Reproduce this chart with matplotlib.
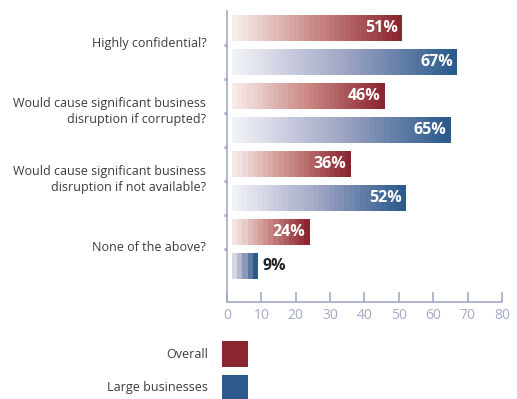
import numpy as np
import matplotlib.pyplot as plt
from matplotlib.colors import LinearSegmentedColormap
from matplotlib.patches import Rectangle

questions = [
    "Highly confidential?",
    "Would cause significant business\ndisruption if corrupted?",
    "Would cause significant business\ndisruption if not available?",
    "None of the above?",
]
overall = [51, 46, 36, 24]
large_businesses = [67, 65, 52, 9]
series_names = ["Overall", "Large businesses"]
series_colors = ["#8b2630", "#2b5a8b"]
x_ticks = [0, 10, 20, 30, 40, 50, 60, 70, 80]

AXIS_COLOR = "#a4aac8"
TEXT_COLOR = "#3c3c3c"
STEP = 1.5      # width of one colour step in the bar gradient
GAP = 1.5       # bars start a little right of the axis
BAR_H = 0.76

# fades from near white to each series colour
fades = [
    LinearSegmentedColormap.from_list("red_fade", ["#faf3f0", "#cb8a86", series_colors[0]]),
    LinearSegmentedColormap.from_list("blue_fade", ["#f5f6f9", "#a2a7c5", series_colors[1]]),
]

plt.rcParams["font.family"] = ["Open Sans", "DejaVu Sans"]

fig = plt.figure(figsize=(5.17, 3.99), dpi=100)
ax = fig.add_axes([0.439, 0.243, 0.532, 0.729])


def stepped_bar(ax, y, value, cmap):
    # bar made of narrow blocks of stepped colour
    length = value - GAP
    n = max(int(np.ceil(length / STEP)), 1)
    w = length / n
    for i in range(n):
        t = (i + 1) / n
        ax.add_patch(Rectangle((GAP + i * w, y - BAR_H / 2), w + 0.02, BAR_H,
                               facecolor=cmap(t), edgecolor="none", lw=0))


for k in range(len(questions)):
    for j, vals in enumerate([overall, large_businesses]):
        y = 2 * k + j
        v = vals[k]
        stepped_bar(ax, y, v, fades[j])
        if v >= 20:
            ax.text(v - 1.2, y, f"{v}%", ha="right", va="center", color="white",
                    fontsize=11.5, fontweight="bold")
        else:
            ax.text(v + 1.2, y, f"{v}%", ha="left", va="center", color="#222222",
                    fontsize=11.5, fontweight="bold")
    ax.text(-6, 2 * k + 0.45, questions[k], ha="right", va="center",
            color=TEXT_COLOR, fontsize=9, clip_on=False, linespacing=1.35)

ax.set_xlim(0, 80)
ax.set_ylim(8.06, -0.5)
ax.set_xticks(x_ticks)
ax.set_xticklabels([str(t) for t in x_ticks], color=AXIS_COLOR, fontsize=10)
ax.tick_params(axis="x", direction="in", length=7, color=AXIS_COLOR, width=1.2, pad=4)
ax.set_yticks(np.arange(0.5, 7.5, 1))
ax.set_yticklabels([])
ax.tick_params(axis="y", direction="out", length=2, color=AXIS_COLOR, width=2)
for side in ["top", "right"]:
    ax.spines[side].set_visible(False)
for side in ["left", "bottom"]:
    ax.spines[side].set_color(AXIS_COLOR)
    ax.spines[side].set_linewidth(1.2)

# legend: labels with colour squares below the chart
for j, name in enumerate(series_names):
    top = 341 + j * 34
    fig.text(208 / 517, 1 - (top + 13) / 399, name, ha="right", va="center",
             color=TEXT_COLOR, fontsize=9)
    fig.add_artist(Rectangle((222 / 517, 1 - (top + 26) / 399), 26 / 517, 26 / 399,
                             facecolor=series_colors[j], edgecolor="none",
                             transform=fig.transFigure))

fig.savefig("out.png", dpi=100)
